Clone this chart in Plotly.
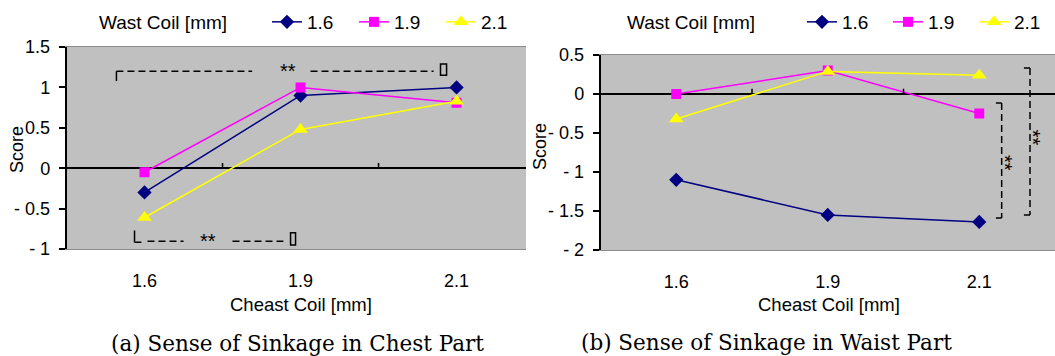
import plotly.graph_objects as go

W, H = 1055, 356

# ---------------- data ----------------
chest_coil = ["1.6", "1.9", "2.1"]
waist_coil = ["1.6", "1.9", "2.1"]
xpos = [0, 1, 2]

# (a) Chest part
chest_16 = [-0.30, 0.90, 1.00]
chest_19 = [-0.05, 1.00, 0.81]
chest_21 = [-0.61, 0.48, 0.83]

# (b) Waist part
waist_16 = [-1.10, -1.55, -1.64]
waist_19 = [0.00, 0.30, -0.25]
waist_21 = [-0.32, 0.29, 0.24]

left_yticks = [-1, -0.5, 0, 0.5, 1, 1.5]
left_yticktext = ["- 1", "- 0.5", "0", "0.5", "1", "1.5"]
right_yticks = [-2, -1.5, -1, -0.5, 0, 0.5]
right_yticktext = ["- 2", "- 1.5", "- 1", "- 0.5", "0", "0.5"]

colors = ["#000080", "#FF00FF", "#FFFF00"]
symbols = ["diamond", "square", "triangle-up"]
msizes = [11, 10, 13]

FONT = "Liberation Sans, Arial, sans-serif"
SERIF = "DejaVu Serif, serif"


def px(x):
    return x / W


def py(y):
    return 1 - y / H


fig = go.Figure()

for i, (name, vals) in enumerate(zip(waist_coil, [chest_16, chest_19, chest_21])):
    fig.add_trace(go.Scatter(
        x=xpos, y=vals, name=name, mode="lines+markers",
        line=dict(color=colors[i], width=1.5),
        marker=dict(symbol=symbols[i], size=msizes[i], color=colors[i]),
        xaxis="x", yaxis="y", legend="legend"))

for i, (name, vals) in enumerate(zip(waist_coil, [waist_16, waist_19, waist_21])):
    fig.add_trace(go.Scatter(
        x=xpos, y=vals, name=name, mode="lines+markers",
        line=dict(color=colors[i], width=1.5),
        marker=dict(symbol=symbols[i], size=msizes[i], color=colors[i]),
        xaxis="x2", yaxis="y2", legend="legend2"))

xcommon = dict(tickmode="array", tickvals=xpos, ticktext=chest_coil, ticks="",
               showgrid=False, zeroline=False, showline=True, linecolor="#8c8c8c",
               linewidth=1, mirror=True, ticklabelstandoff=15, automargin=False,
               tickfont=dict(family=FONT, size=18, color="black"))
ycommon = dict(tickmode="array", showgrid=False, zeroline=True, zerolinecolor="black",
               zerolinewidth=1.5, showline=True, linecolor="black", linewidth=1.5,
               ticks="outside", ticklen=6, tickcolor="black", tickwidth=1.5,
               ticklabelstandoff=5, automargin=False,
               tickfont=dict(family=FONT, size=18, color="black"))

fig.update_layout(
    width=W, height=H, autosize=False,
    margin=dict(l=0, r=0, t=0, b=0, autoexpand=False),
    paper_bgcolor="white", plot_bgcolor="#C0C0C0",
    showlegend=True,
    xaxis=dict(domain=[px(66.5), px(526)], range=[-0.5, 2.445], anchor="y", **xcommon),
    yaxis=dict(domain=[py(249), py(47)], range=[-1, 1.5], tickvals=left_yticks,
               ticktext=left_yticktext, anchor="x", **ycommon),
    xaxis2=dict(domain=[px(600.5), 1], range=[-0.5, 2.5], anchor="y2", **xcommon),
    yaxis2=dict(domain=[py(250), py(55)], range=[-2, 0.5], tickvals=right_yticks,
                ticktext=right_yticktext, anchor="x2", **ycommon),
    legend=dict(orientation="h", x=px(267), y=py(22), xanchor="left", yanchor="middle",
                font=dict(family=FONT, size=19, color="black"), bgcolor="rgba(0,0,0,0)",
                entrywidth=42, entrywidthmode="pixels", itemclick=False, tracegroupgap=0),
    legend2=dict(orientation="h", x=px(802), y=py(22), xanchor="left", yanchor="middle",
                 font=dict(family=FONT, size=19, color="black"), bgcolor="rgba(0,0,0,0)",
                 entrywidth=41, entrywidthmode="pixels", itemclick=False, tracegroupgap=0),
)

ann = []
# legend titles
ann.append(dict(text="Wast Coil [mm]", x=px(97), y=py(22), xref="paper", yref="paper",
                xanchor="left", yanchor="middle", showarrow=False,
                font=dict(family=FONT, size=19, color="black")))
ann.append(dict(text="Wast Coil [mm]", x=px(625), y=py(22), xref="paper", yref="paper",
                xanchor="left", yanchor="middle", showarrow=False,
                font=dict(family=FONT, size=19, color="black")))
# axis titles
for cx in (301, 829):
    ann.append(dict(text="Cheast Coil [mm]", x=px(cx), y=py(304), xref="paper", yref="paper",
                    xanchor="center", yanchor="middle", showarrow=False,
                    font=dict(family=FONT, size=18.5, color="black")))
for cx, cy in ((17, 150), (540, 147)):
    ann.append(dict(text="Score", x=px(cx), y=py(cy), xref="paper", yref="paper",
                    xanchor="center", yanchor="middle", showarrow=False, textangle=-90,
                    font=dict(family=FONT, size=18, color="black")))
# captions
ann.append(dict(text="(a) Sense of Sinkage in Chest Part", x=px(297), y=py(343),
                xref="paper", yref="paper", xanchor="center", yanchor="middle",
                showarrow=False, font=dict(family=SERIF, size=21.5, color="black")))
ann.append(dict(text="(b) Sense of Sinkage in Waist Part", x=px(766), y=py(342),
                xref="paper", yref="paper", xanchor="center", yanchor="middle",
                showarrow=False, font=dict(family=SERIF, size=21.5, color="black")))
# significance marks
ann.append(dict(text="**", x=0.917, y=1.20, xref="x", yref="y", showarrow=False,
                xanchor="center", yanchor="middle", font=dict(family=FONT, size=20, color="black")))
ann.append(dict(text="**", x=0.41, y=-0.905, xref="x", yref="y", showarrow=False,
                xanchor="center", yanchor="middle", font=dict(family=FONT, size=20, color="black")))
ann.append(dict(text="**", x=2.17, y=-0.885, xref="x2", yref="y2", showarrow=False, textangle=90,
                xanchor="center", yanchor="middle", font=dict(family=FONT, size=20, color="black")))
ann.append(dict(text="**", x=2.355, y=-0.56, xref="x2", yref="y2", showarrow=False, textangle=90,
                xanchor="center", yanchor="middle", font=dict(family=FONT, size=20, color="black")))
fig.update_layout(annotations=ann)

solid = dict(color="black", width=1.5)
dashed = dict(color="black", width=1.5, dash="7px,4px")
shapes = []


def seg(xref, yref, x0, y0, x1, y1, line):
    shapes.append(dict(type="line", xref=xref, yref=yref, x0=x0, y0=y0, x1=x1, y1=y1, line=line))


# category separator ticks on zero line
for xv in (0.5, 1.5):
    seg("x", "y", xv, 0, xv, 0.065, solid)
    seg("x2", "y2", xv, 0, xv, 0.067, solid)

# (a) top bracket
seg("x", "y", -0.18, 1.08, -0.18, 1.20, solid)
seg("x", "y", -0.18, 1.20, 0.69, 1.20, dashed)
seg("x", "y", 1.064, 1.20, 1.853, 1.20, dashed)
shapes.append(dict(type="rect", xref="x", yref="y", x0=1.897, x1=1.936, y0=1.15, y1=1.29,
                   line=dict(color="black", width=1.5)))
# (a) bottom bracket
seg("x", "y", -0.064, -0.77, -0.064, -0.915, solid)
seg("x", "y", -0.064, -0.915, -0.02, -0.915, solid)
seg("x", "y", 0.019, -0.905, 0.25, -0.905, dashed)
seg("x", "y", 0.564, -0.905, 0.89, -0.905, dashed)
shapes.append(dict(type="rect", xref="x", yref="y", x0=0.936, x1=0.968, y0=-0.80, y1=-0.95,
                   line=dict(color="black", width=1.5)))
# (b) brackets
seg("x2", "y2", 2.11, -0.115, 2.148, -0.115, solid)
seg("x2", "y2", 2.148, -0.115, 2.148, -1.59, dashed)
seg("x2", "y2", 2.11, -1.59, 2.148, -1.59, solid)
seg("x2", "y2", 2.295, 0.333, 2.335, 0.333, solid)
seg("x2", "y2", 2.335, 0.333, 2.335, -1.55, dashed)
seg("x2", "y2", 2.295, -1.55, 2.335, -1.55, solid)
fig.update_layout(shapes=shapes)

fig.write_html("out.html", config={"displayModeBar": False},
               post_script="document.body.style.margin='0';")
